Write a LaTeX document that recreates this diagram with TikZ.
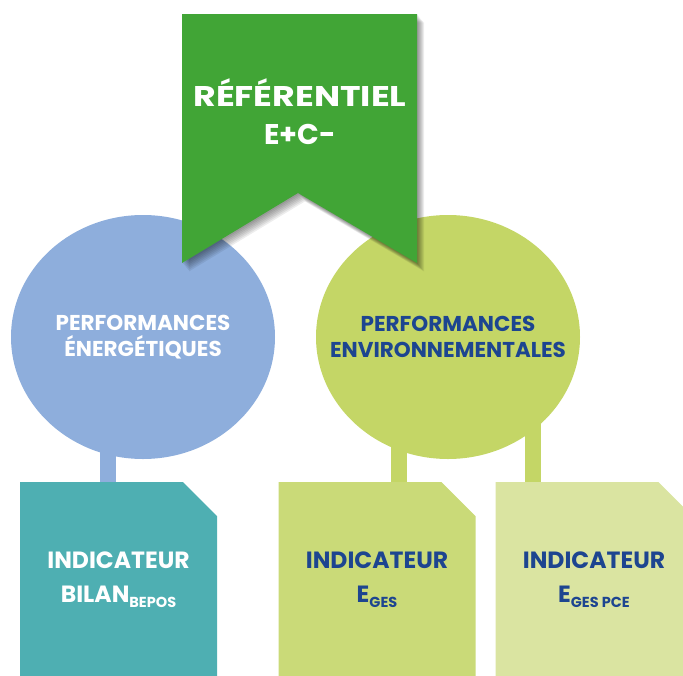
\documentclass[tikz,border=0pt]{standalone}
\usepackage{fontspec}
\setmainfont{Poppins}
\usetikzlibrary{shapes.geometric}

\definecolor{vert}{HTML}{41A536}
\definecolor{bleu}{HTML}{8EAEDC}
\definecolor{vertclair}{HTML}{C4D666}
\definecolor{sarcelle}{HTML}{4EAFB2}
\definecolor{kaki}{HTML}{CADA78}
\definecolor{paille}{HTML}{DAE4A1}
\definecolor{marine}{HTML}{1D4590}

\tikzset{
  bulle/.style={ellipse,minimum width=264pt,minimum height=244pt,inner sep=0pt},
  bulletxt/.style={align=center,font=\fontsize{21.5}{26}\selectfont\bfseries},
  tige/.style={line width=16pt},
  % box with the upper right corner cut off
  ind/.style={minimum width=197pt,minimum height=196pt,inner sep=0pt,align=center,
    font=\fontsize{23.5}{34}\selectfont\bfseries,
    path picture={\fill[#1] (path picture bounding box.south west)
      -- (path picture bounding box.north west)
      -- ([xshift=-34pt]path picture bounding box.north east)
      -- ([yshift=-34pt]path picture bounding box.north east)
      -- (path picture bounding box.south east) -- cycle;}},
}
\newcommand{\sousind}[1]{\raisebox{-5pt}{\fontsize{14.5}{15}\selectfont #1}}

\begin{document}
\begin{tikzpicture}[x=1pt,y=-1pt]
\useasboundingbox (0,0) rectangle (683,675);
\clip (0,0) rectangle (683,675);

% stems
\coordinate (t1) at (108,420);
\coordinate (t2) at (399,420);
\coordinate (t3) at (533,400);

% bubbles
\node[bulle,fill=bleu] (energie) at (143,337) {};
\node[bulle,fill=vertclair] (environ) at (448,337) {};
\node[bulletxt,text=white] (energie-txt) at (energie) {PERFORMANCES\\ÉNERGÉTIQUES};
\node[bulletxt,text=marine] (environ-txt) at (environ) {PERFORMANCES\\ENVIRONNEMENTALES};

% indicators
\node[ind=sarcelle,text=white] (bilan) at (118.5,580) {INDICATEUR\\BILAN\sousind{BEPOS}};
\node[ind=kaki,text=marine] (eges) at (377,580) {INDICATEUR\\E\sousind{GES}};
\node[ind=paille,text=marine] (egespce) at (594,580) {INDICATEUR\\E\sousind{GES PCE}};

\draw[tige,bleu] (t1) -- (t1 |- bilan.north);
\draw[tige,vertclair] (t2) -- (t2 |- eges.north);
\draw[tige,vertclair] (t3) -- (t3 |- egespce.north);

% banner with its shadow
\foreach \d in {1,...,7}
  \fill[black,opacity=.07,shift={(\d,1.2*\d)}] (182,14) -- (417,14) -- (417,263) -- (298,193) -- (182,263) -- cycle;
\fill[vert] (182,14) -- (417,14) -- (417,263) -- (298,193) -- (182,263) -- cycle;
\node[align=center,text=white,font=\fontsize{28.5}{38}\selectfont\bfseries] (titre) at (300,112)
  {\scalebox{1.22}[1]{RÉFÉRENTIEL}\\E+C-};
\end{tikzpicture}
\end{document}
